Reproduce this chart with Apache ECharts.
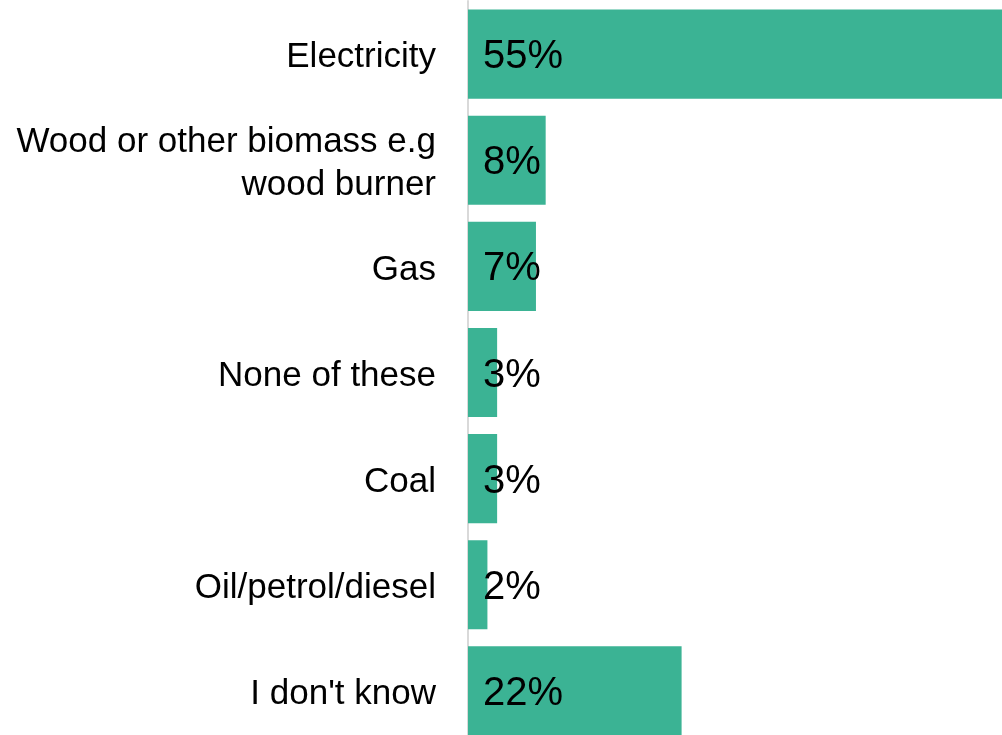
<!DOCTYPE html>
<html>
<head>
<meta charset="utf-8">
<script src="https://cdn.jsdelivr.net/npm/echarts@6/dist/echarts.min.js"></script>
<style>
  html, body { margin: 0; padding: 0; background: #fff; }
  #chart { width: 1002px; height: 735px; }
</style>
</head>
<body>
<div id="chart"></div>
<script>
// categories, top to bottom
var categories = [
    'Electricity',
    'Wood or other biomass e.g\nwood burner',
    'Gas',
    'None of these',
    'Coal',
    'Oil/petrol/diesel',
    "I don't know"
];
// share of respondents (%)
var values = [55, 8, 7, 3, 3, 2, 22];

var myChart = echarts.init(document.getElementById('chart'));
myChart.setOption({
    animation: false,
    grid: {
        left: 468,
        right: 0,
        top: 1,
        height: 743,
        outerBoundsMode: 'none'
    },
    xAxis: {
        type: 'value',
        min: 0,
        max: 55,
        show: false
    },
    yAxis: {
        type: 'category',
        inverse: true,
        data: categories,
        axisLine: {
            lineStyle: { color: '#d9d9d9', width: 2 }
        },
        axisTick: { show: false },
        axisLabel: {
            margin: 32,
            color: '#000',
            fontFamily: 'Liberation Sans',
            fontSize: 35,
            lineHeight: 43,
            // nudge text down a little, like the original font sits
            formatter: function (v) {
                return v.split('\n').map(function (s) { return '{a|' + s + '}'; }).join('\n');
            },
            rich: {
                a: {
                    fontFamily: 'Liberation Sans',
                    fontSize: 35,
                    lineHeight: 43,
                    padding: [7, 0, 0, 0]
                }
            }
        }
    },
    series: [
        {
            type: 'bar',
            data: values,
            barCategoryGap: '16%',
            itemStyle: { color: '#3bb394' },
            label: {
                show: true,
                position: 'insideLeft',
                distance: 15,
                offset: [0, 3],
                formatter: '{c}%',
                color: '#000',
                fontFamily: 'Liberation Sans',
                fontSize: 40
            }
        }
    ]
});
</script>
</body>
</html>
